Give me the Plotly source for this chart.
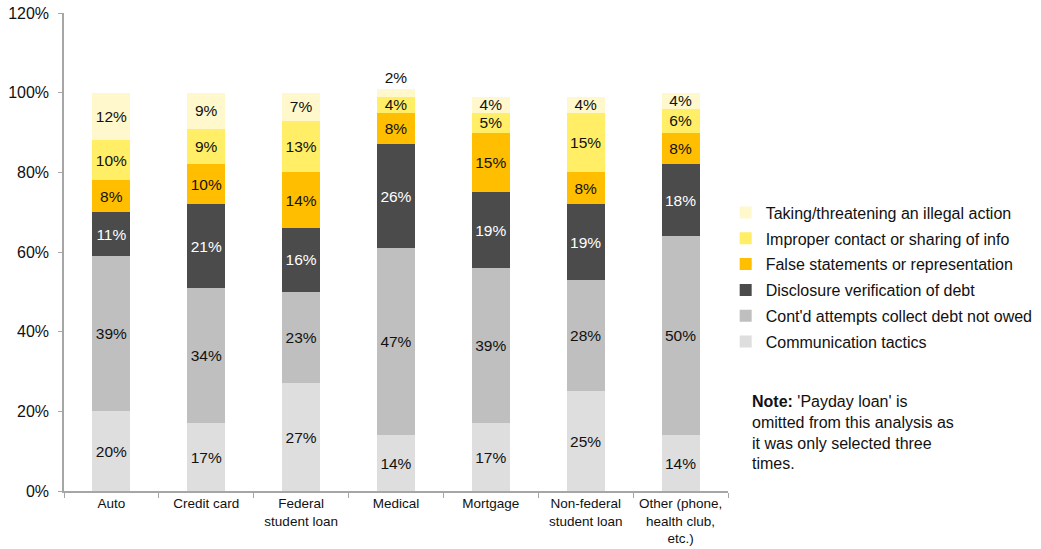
import plotly.graph_objects as go

# Debt type categories (x axis)
categories = [
    "Auto",
    "Credit card",
    "Federal<br>student loan",
    "Medical",
    "Mortgage",
    "Non-federal<br>student loan",
    "Other (phone,<br>health club,<br>etc.)",
]

# Share of complaints by issue, percent (stacked bottom to top)
communication_tactics = [20, 17, 27, 14, 17, 25, 14]
contd_attempts = [39, 34, 23, 47, 39, 28, 50]
disclosure_verification = [11, 21, 16, 26, 19, 19, 18]
false_statements = [8, 10, 14, 8, 15, 8, 8]
improper_contact = [10, 9, 13, 4, 5, 15, 6]
taking_threatening = [12, 9, 7, 2, 4, 4, 4]

series = [
    ("Communication tactics", communication_tactics, "#DEDEDE", "#111111"),
    ("Cont'd attempts collect debt not owed", contd_attempts, "#BFBFBF", "#111111"),
    ("Disclosure verification of debt", disclosure_verification, "#4B4B4B", "#ffffff"),
    ("False statements or representation", false_statements, "#FFBF00", "#111111"),
    ("Improper contact or sharing of info", improper_contact, "#FFEE66", "#111111"),
    ("Taking/threatening an illegal action", taking_threatening, "#FFF8CC", "#111111"),
]

FONT = "Liberation Sans, Arial, sans-serif"

fig = go.Figure()
for i, (name, vals, color, txtcolor) in enumerate(series):
    is_top = i == len(series) - 1
    positions = ["outside" if (is_top and v < 3) else "inside" for v in vals]
    fig.add_trace(
        go.Bar(
            name=name,
            x=categories,
            y=vals,
            marker=dict(color=color, line=dict(width=0)),
            width=0.4,
            text=[f"{v}%" for v in vals],
            textposition=positions,
            insidetextanchor="middle",
            textangle=0,
            textfont=dict(family=FONT, size=15.5, color=txtcolor),
            outsidetextfont=dict(family=FONT, size=15.5, color="#111111"),
            cliponaxis=False,
            legendgroup=name,
            legendrank=len(series) - i,
            hoverinfo="skip",
        )
    )

fig.add_annotation(
    xref="paper", yref="paper",
    x=1.033, y=0.209,
    xanchor="left", yanchor="top",
    align="left",
    showarrow=False,
    text="<b>Note:</b> 'Payday loan' is<br>omitted from this analysis as<br>it was only selected three<br>times.",
    font=dict(family=FONT, size=16, color="#111111"),
)

fig.update_layout(
    width=1041,
    height=549,
    barmode="stack",
    paper_bgcolor="white",
    plot_bgcolor="white",
    margin=dict(l=64, r=313, t=13, b=58, autoexpand=False),
    font=dict(family=FONT, color="#111111"),
    uniformtext=dict(minsize=15.5, mode="show"),
    legend=dict(
        x=0.9965, y=0.618, xanchor="left", yanchor="top",
        traceorder="grouped",
        tracegroupgap=2,
        font=dict(family=FONT, size=16, color="#111111"),
        bgcolor="rgba(0,0,0,0)",
        itemclick=False,
    ),
    showlegend=True,
)

fig.update_xaxes(
    showline=True, linecolor="#A6A6A6", linewidth=1.5,
    ticks="outside", tickson="boundaries", ticklen=5, tickcolor="#A6A6A6",
    tickangle=0, automargin=False, ticklabelstandoff=-1,
    tickfont=dict(family=FONT, size=13.5, color="#111111"),
    showgrid=False,
)
fig.update_yaxes(
    range=[0, 120], dtick=20, ticksuffix="%",
    showline=True, linecolor="#A6A6A6", linewidth=1.5,
    ticks="outside", ticklen=4, tickcolor="#A6A6A6",
    automargin=False, ticklabelstandoff=6,
    tickfont=dict(family=FONT, size=16, color="#111111"),
    showgrid=False, zeroline=False,
)

fig.write_html("out.html")
